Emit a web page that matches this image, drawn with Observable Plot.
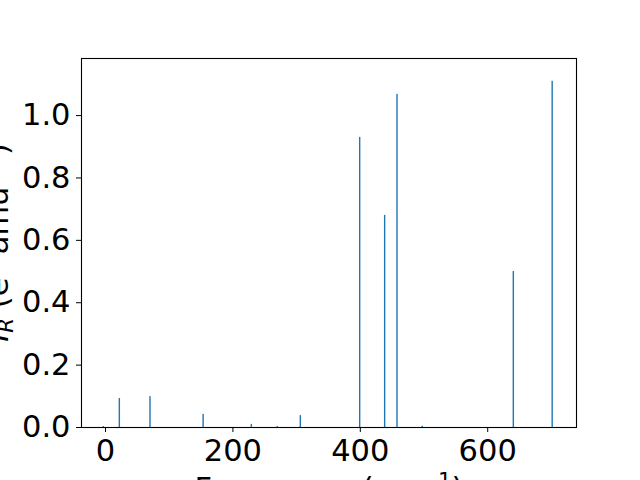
<!DOCTYPE html>
<html>
<head>
<meta charset="utf-8">
<script src="https://cdn.jsdelivr.net/npm/d3@7"></script>
<script src="https://cdn.jsdelivr.net/npm/@observablehq/plot@0.6"></script>
<style>
  html, body { margin: 0; padding: 0; background: white; }
  svg { display: block; }
</style>
</head>
<body>
<div id="chart"></div>
<script>
const frequencies = [-2.6, 22.5, 70.6, 154, 229.7, 270.5, 306.6, 399.8, 439, 458.4, 498, 641, 702];
const intensities = [0.003, 0.093, 0.099, 0.042, 0.01, 0.003, 0.038, 0.930, 0.680, 1.068, 0.004, 0.500, 1.110];
const xTicks = [0, 200, 400, 600];
const yTicks = [0.0, 0.2, 0.4, 0.6, 0.8, 1.0];

const data = frequencies.map((f, i) => ({f, v: intensities[i]}));
const halfWidth = 1.1;
const fs = 30.5;

const chart = Plot.plot({
  width: 640,
  height: 480,
  marginLeft: 81,
  marginRight: 64,
  marginTop: 58,
  marginBottom: 53,
  style: {fontFamily: "DejaVu Sans", fontSize: fs + "px", background: "white", color: "black"},
  x: {domain: [-37.7, 739.4]},
  y: {domain: [0, 1.183]},
  marks: [
    Plot.rectY(data, {x1: d => d.f - halfWidth, x2: d => d.f + halfWidth, y: "v", fill: "#1f77b4"}),
    Plot.axisX({ticks: xTicks, tickFormat: d => String(d), tickSize: 5, tickPadding: 7, label: null, fontSize: fs, fontFamily: "DejaVu Sans"}),
    Plot.axisY({ticks: yTicks, tickFormat: d3.format(".1f"), tickSize: 5, tickPadding: 6, label: null, fontSize: fs, fontFamily: "DejaVu Sans"}),
    Plot.frame({stroke: "black", strokeWidth: 1.1})
  ]
});

const svg = d3.select(chart);
// x label
const xl = svg.append("text")
  .attr("x", 329).attr("y", 499)
  .attr("text-anchor", "middle")
  .attr("font-family", "DejaVu Sans").attr("font-size", fs).attr("fill", "black");
xl.append("tspan").text("Frequency (cm");
xl.append("tspan").attr("dy", -11).attr("font-size", fs * 0.7).text("\u22121");
xl.append("tspan").attr("dy", 11).text(")");

// y label
const yl = svg.append("text")
  .attr("transform", "translate(8,242.5) rotate(-90)")
  .attr("text-anchor", "middle")
  .attr("font-family", "DejaVu Sans").attr("font-size", fs).attr("fill", "black");
yl.append("tspan").attr("font-style", "italic").text("I");
yl.append("tspan").attr("font-style", "italic").attr("font-size", fs * 0.7).attr("dy", 5).text("R");
yl.append("tspan").attr("dy", -5).text(" (e");
yl.append("tspan").attr("dy", -11).attr("font-size", fs * 0.7).text("2");
yl.append("tspan").attr("dy", 11).text(" amu");
yl.append("tspan").attr("dy", -11).attr("font-size", fs * 0.7).text("\u22121");
yl.append("tspan").attr("dy", 11).text(")");

document.getElementById("chart").appendChild(chart);
</script>
</body>
</html>
